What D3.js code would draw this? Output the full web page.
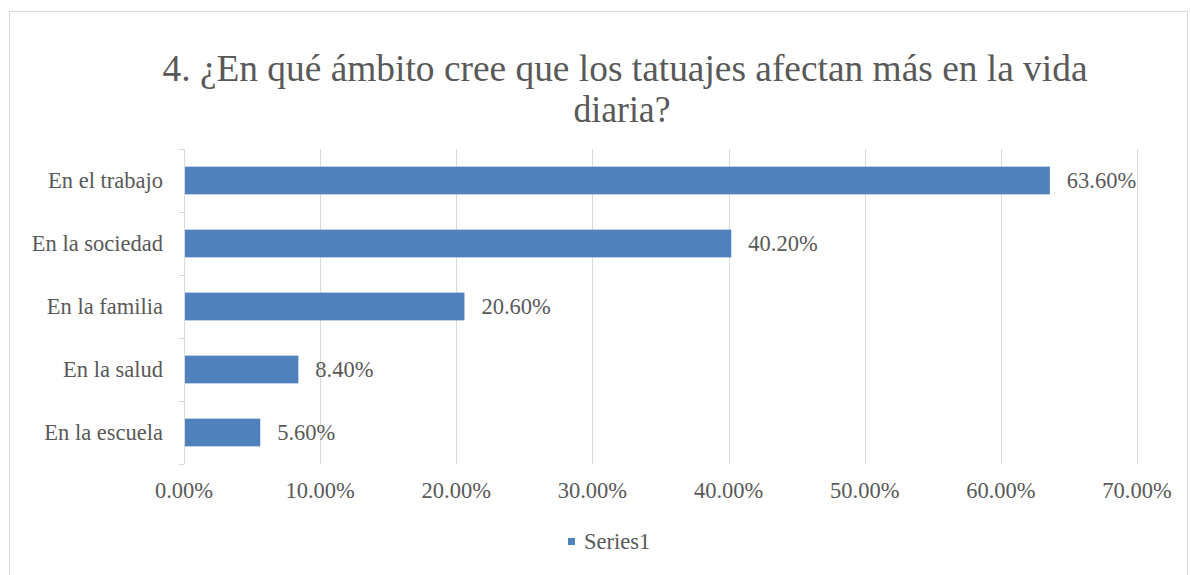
<!DOCTYPE html>
<html>
<head>
<meta charset="utf-8">
<script src="https://cdn.jsdelivr.net/npm/d3@7"></script>
<style>
  body { margin: 0; background: #fff; }
</style>
</head>
<body>
<div id="chart"></div>
<script>
// chart data
const categories = ["En el trabajo", "En la sociedad", "En la familia", "En la salud", "En la escuela"];
const values = [0.636, 0.402, 0.206, 0.084, 0.056];
const xTicks = [0, 0.1, 0.2, 0.3, 0.4, 0.5, 0.6, 0.7];
const titleLines = ["4. ¿En qué ámbito cree que los tatuajes afectan más en la vida", "diaria?"];
const seriesName = "Series1";

const width = 1190, height = 575;
const barColor = "#4f81bd";
const textColor = "#595959";
const font = "Liberation Serif";

const svg = d3.select("#chart")
    .append("svg")
    .attr("width", width)
    .attr("height", height)
    .attr("font-family", font);

// chart border
svg.append("rect")
    .attr("x", 9.5)
    .attr("y", 11.5)
    .attr("width", 1178)
    .attr("height", 600)
    .attr("fill", "#fff")
    .attr("stroke", "#d9d9d9");

// title, squeezed to the reference width
svg.selectAll("text.title")
    .data(titleLines)
    .join("text")
    .attr("class", "title")
    .attr("x", (d, i) => i === 0 ? 625 : 622)
    .attr("y", (d, i) => i === 0 ? 81 : 122)
    .attr("text-anchor", "middle")
    .attr("font-family", font)
    .attr("font-size", 37)
    .attr("fill", textColor)
    .attr("textLength", (d, i) => i === 0 ? 925 : 97)
    .attr("lengthAdjust", "spacingAndGlyphs")
    .text(d => d);

// scales
const plot = {left: 184, right: 1137, top: 149, bottom: 464};

const x = d3.scaleLinear()
    .domain([0, 0.7])
    .range([plot.left, plot.right]);

const y = d3.scaleBand()
    .domain(categories)
    .range([plot.top, plot.bottom])
    .paddingInner(0.56)
    .paddingOuter(0.28);

// gridlines
svg.append("g")
    .selectAll("line")
    .data(xTicks.slice(1))
    .join("line")
    .attr("x1", d => Math.round(x(d)) + 0.5)
    .attr("x2", d => Math.round(x(d)) + 0.5)
    .attr("y1", plot.top)
    .attr("y2", plot.bottom)
    .attr("stroke", "#d9d9d9");

// y axis with ticks between categories
const yAxis = svg.append("g");
yAxis.append("line")
    .attr("x1", plot.left + 0.5)
    .attr("x2", plot.left + 0.5)
    .attr("y1", plot.top)
    .attr("y2", plot.bottom)
    .attr("stroke", "#d9d9d9");
const step = (plot.bottom - plot.top) / categories.length;
yAxis.selectAll("line.tick")
    .data(d3.range(categories.length + 1))
    .join("line")
    .attr("class", "tick")
    .attr("x1", plot.left - 5)
    .attr("x2", plot.left)
    .attr("y1", i => Math.round(plot.top + i * step) + 0.5)
    .attr("y2", i => Math.round(plot.top + i * step) + 0.5)
    .attr("stroke", "#d9d9d9");

// category labels
svg.append("g")
    .selectAll("text")
    .data(categories)
    .join("text")
    .attr("x", plot.left - 21)
    .attr("y", d => y(d) + y.bandwidth() / 2)
    .attr("dy", "0.33em")
    .attr("text-anchor", "end")
    .attr("font-family", font)
    .attr("font-size", 22.5)
    .attr("fill", textColor)
    .text(d => d);

// bars
svg.append("g")
    .selectAll("rect")
    .data(values)
    .join("rect")
    .attr("x", x(0) + 1)
    .attr("y", (d, i) => y(categories[i]))
    .attr("width", d => x(d) - x(0) - 1)
    .attr("height", y.bandwidth())
    .attr("fill", barColor);

// data labels
const fmt = d3.format(".2%");
svg.append("g")
    .selectAll("text")
    .data(values)
    .join("text")
    .attr("x", d => x(d) + 17)
    .attr("y", (d, i) => y(categories[i]) + y.bandwidth() / 2)
    .attr("dy", "0.33em")
    .attr("font-family", font)
    .attr("font-size", 22.5)
    .attr("fill", textColor)
    .text(d => fmt(d));

// x tick labels
svg.append("g")
    .selectAll("text")
    .data(xTicks)
    .join("text")
    .attr("x", d => x(d))
    .attr("y", 498)
    .attr("text-anchor", "middle")
    .attr("font-family", font)
    .attr("font-size", 22.5)
    .attr("fill", textColor)
    .text(d => fmt(d));

// legend
svg.append("rect")
    .attr("x", 568)
    .attr("y", 538)
    .attr("width", 7)
    .attr("height", 7)
    .attr("fill", barColor);
svg.append("text")
    .attr("x", 584)
    .attr("y", 549)
    .attr("font-family", font)
    .attr("font-size", 22.5)
    .attr("fill", textColor)
    .text(seriesName);
</script>
</body>
</html>
